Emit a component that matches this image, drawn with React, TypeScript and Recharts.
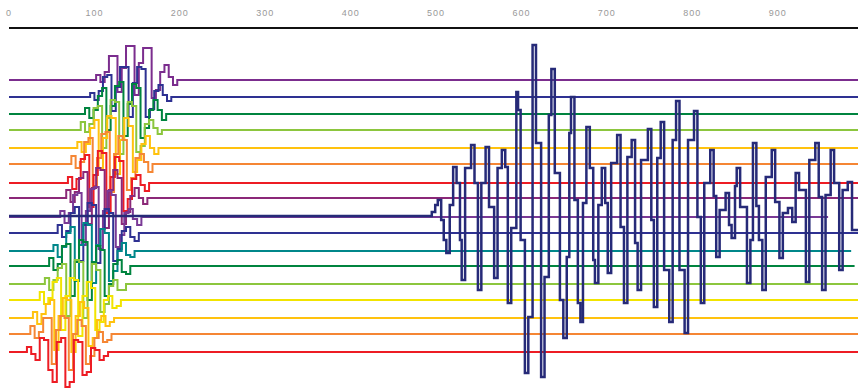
import React from "react";
import { LineChart, Line, XAxis, YAxis } from "recharts";

// top axis
const xTicks = [0, 100, 200, 300, 400, 500, 600, 700, 800, 900];

// 17 coloured traces, top to bottom
const traceColors = [
  "#7b2d8e", "#2e3192", "#00843f", "#8cc63e", "#ffc20e", "#f58634", "#ed1c24",
  "#8b2878", "#7a3a96", "#2e3192", "#00878a", "#00843f", "#8cc63e", "#f2e400",
  "#ffc20e", "#f58634", "#ed1c24",
];
const traceLevels = [308, 291, 274, 258, 240, 224, 205, 190, 171, 155, 137, 122, 104, 88, 70, 54, 36];
const traceStarts = [102, 95, 89, 84, 80, 73, 69, 67, 60, 57, 52, 47, 42, 36, 28, 25, 21];
const traceEnds = [994, 994, 994, 994, 994, 994, 994, 994, 959, 994, 986, 990, 994, 994, 994, 994, 994];
const sampleStep = 5;
const traceWiggles = [
  [5, -2, 8, 24, 24, -12, 12, 34, 34, -15, 17, 32, 32, -18, -10, 8, 15, 3, -5],
  [4, -3, 6, 20, 22, -14, 10, 30, 30, -20, 14, 30, 28, -20, -12, 6, 12, 2, -4],
  [6, -4, 4, 18, 26, -16, 8, 28, 32, -22, 10, 30, 26, -24, -14, 4, 14, 4, -6],
  [8, -2, 6, 22, 24, -18, 12, 30, 28, -24, 12, 28, 24, -22, -16, 6, 10, 2, -4],
  [6, -4, 4, 20, 28, -20, 10, 32, 30, -26, 8, 30, 22, -24, -12, 4, 12, 0, -6],
  [8, -4, 2, 22, 26, -22, 6, 30, 32, -28, 10, 28, 24, -26, -14, 6, 10, 2, -8],
  [6, -6, 4, 24, 28, -24, 8, 32, 30, -30, 6, 26, 22, -28, -16, 4, 8, -2, -8],
  [8, -4, 6, 20, 26, -26, 10, 30, 28, -30, 8, 28, 20, -26, -14, 2, 10, 0, -6],
  [6, -6, 4, 22, 24, -28, 6, 28, 30, -32, 6, 26, 22, -30, -18, 4, 8, -2, -8],
  [8, -4, 2, 20, 26, -28, 8, 30, 28, -30, 4, 24, 20, -28, -16, 2, 6, -4, -8],
  [6, -6, 4, 18, 24, -30, 6, 28, 26, -32, 6, 22, 18, -30, -20, 0, 8, -4, -6],
  [8, -4, 2, 20, 22, -30, 4, 26, 24, -34, 4, 20, 16, -30, -18, 2, 6, -6, -8],
  [6, -6, 4, 16, 20, -32, 6, 24, 22, -34, 2, 20, 14, -28, -20, -2, 4, -6, -6],
  [8, -4, 2, 18, 22, -30, 4, 22, 20, -36, 4, 18, 12, -30, -22, 0, 4, -8, -6],
  [6, -6, 4, 14, 18, -32, 2, 20, 18, -34, 2, 16, 10, -28, -20, -2, 2, -8, -4],
  [8, -4, 2, 16, 16, -30, 4, 18, 16, -36, 0, 14, 8, -30, -22, -4, 2, -8, -6],
  [5, -2, -8, 14, 12, -18, -30, 10, 14, -35, -30, 12, 10, -23, -20, 4, 2, -8, -4],
];

// big navy trace
const bigBase = 172;
const bigX = [
  0, 495, 499, 502, 506, 509, 512, 516, 520, 524, 528, 530, 534, 541, 545, 549, 553, 558, 562, 568,
  572, 577, 581, 584, 588, 594, 596, 599, 604, 608, 613, 617, 623, 627, 632, 635, 639, 645, 649, 653,
  656, 658, 662, 666, 669, 672, 676, 680, 684, 686, 690, 694, 698, 701, 705, 712, 716, 720, 724, 729,
  733, 736, 740, 748, 752, 755, 759, 763, 767, 773, 777, 781, 785, 791, 795, 802, 806, 810, 814, 821,
  825, 828, 832, 839, 843, 846, 850, 852, 856, 864, 868, 871, 875, 878, 882, 886, 893, 897, 902, 906,
  912, 917, 921, 925, 933, 937, 944, 948, 952, 956, 962, 966, 972, 976, 982, 987, 994,
];
const bigY = [
  0, 4, 11, 16, -4, -24, -37, 11, 49, 33, -24, -64, 48, 71, 33, -74, 33, 69, 9, -62,
  48, 66, 49, -87, -12, 124, 106, -24, -157, -101, 171, 73, -161, -61, 101, 147, 43, -84, -122, -41,
  83, 119, 16, -87, -106, 13, 89, 48, -44, -67, 11, 48, 13, -57, 53, 81, -11, -87, 59, 76,
  -27, -74, 56, 87, -4, -91, 58, 94, -54, -106, 76, 115, -54, -117, 76, 105, -1, -87, 33, 66,
  20, -41, 6, 23, -9, -22, 30, 48, 9, -67, -24, 73, 10, -24, -74, 39, 66, 14, -42, 3,
  8, -6, 43, 26, -66, 56, 73, 19, -74, 21, 66, 33, -54, 26, 34, -14, -14,
];

const traceData = traceLevels.map((level, i) => {
  const start = traceStarts[i];
  const w = traceWiggles[i];
  const pts = [{ x: 0, y: level }];
  w.forEach((a, k) => pts.push({ x: start + k * sampleStep, y: level + a }));
  pts.push({ x: start + w.length * sampleStep, y: level });
  pts.push({ x: traceEnds[i], y: level });
  return pts;
});

const bigData = bigX.map((x, i) => ({ x, y: bigBase + bigY[i] }));

export default function App() {
  return (
    <div style={{ position: "absolute", left: 0, top: 0 }}>
      <LineChart width={858} height={388} margin={{ top: 0, right: 0, bottom: 0, left: 9 }}>
        <XAxis
          type="number"
          dataKey="x"
          orientation="top"
          domain={[0, 994]}
          ticks={xTicks}
          interval={0}
          height={28}
          tickLine={false}
          tickSize={6}
          tickMargin={6}
          axisLine={{ stroke: "#111", strokeWidth: 2 }}
          tick={{ fontSize: 9, fill: "#999", fontFamily: "Liberation Sans, Arial", letterSpacing: 1 }}
        />
        <YAxis hide type="number" domain={[0, 360]} />
        {traceData.map((d, i) => (
          <Line
            key={i}
            data={d}
            dataKey="y"
            type="stepAfter"
            stroke={traceColors[i]}
            strokeWidth={2}
            dot={false}
            isAnimationActive={false}
          />
        ))}
        <Line
          data={bigData}
          dataKey="y"
          type="stepAfter"
          stroke="#262a78"
          strokeWidth={2.5}
          dot={false}
          isAnimationActive={false}
        />
      </LineChart>
    </div>
  );
}
